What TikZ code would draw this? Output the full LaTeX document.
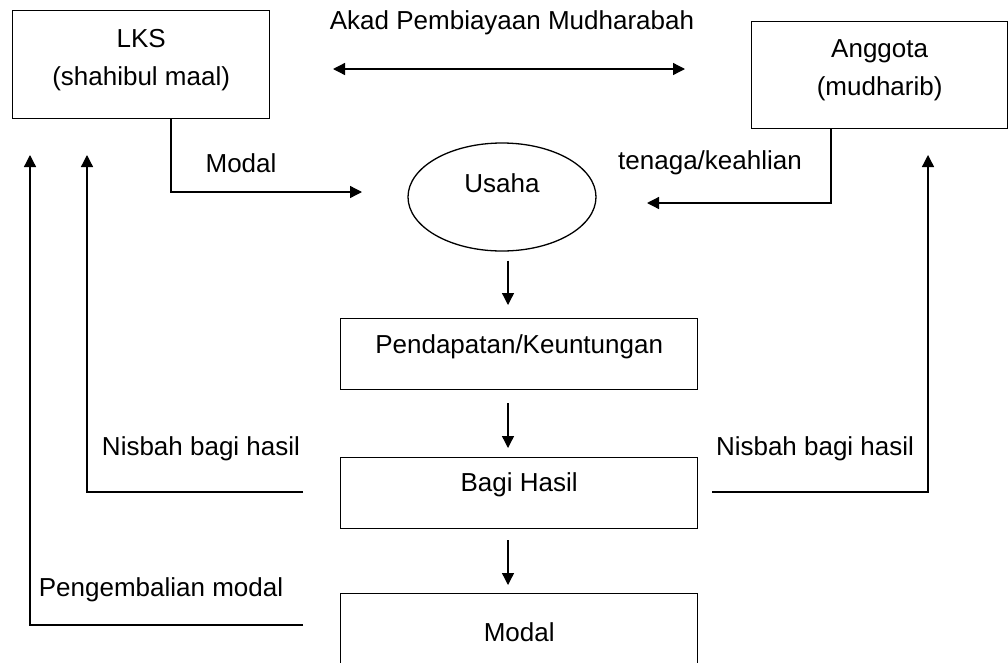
\documentclass[tikz,border=0pt]{standalone}
\usepackage{fontspec}
\setmainfont{Liberation Sans}
\usetikzlibrary{arrows.meta,shapes.geometric}

\tikzset{
	box/.style={draw, line width=1.3pt, anchor=north west, align=center, text height=19pt, text depth=19pt},
	tip/.style={line width=1.3pt, -{Triangle[length=12pt,width=12pt]}},
	lbl/.style={inner sep=0pt}
}

\begin{document}
\begin{tikzpicture}[x=1pt,y=-1pt,font=\fontsize{26}{38}\selectfont]
	\useasboundingbox (0,0) rectangle (1008,662);
	% boxes
	\node[box, minimum width=257pt, minimum height=108pt, text height=57pt, text depth=16pt] (lks) at (12,10) {LKS\\(shahibul maal)};
	\node[box, minimum width=256pt, minimum height=107pt, text height=57pt, text depth=16pt] (agt) at (751,21) {Anggota\\(mudharib)};
	\node[draw, ellipse, line width=1.3pt, minimum width=188pt, minimum height=108pt, text height=19pt, text depth=28pt] (usaha) at (502,197) {Usaha};
	\node[box, minimum width=357pt, minimum height=71pt, text depth=21pt] (pend) at (340,318) {Pendapatan/Keuntungan};
	\node[box, minimum width=357pt, minimum height=71pt, text depth=22pt] (bagi) at (340,457) {Bagi Hasil};
	\node[box, minimum width=357pt, minimum height=96pt] (modal) at (340,593) {Modal};
	% labels
	\node[lbl] (akad) at (512,23) {Akad Pembiayaan Mudharabah};
	\node[lbl] (modallbl) at (241,163) {Modal};
	\node[lbl] (tenaga) at (710,163) {tenaga/keahlian};
	\node[lbl] (nisbahL) at (201,449) {Nisbah bagi hasil};
	\node[lbl] (nisbahR) at (815,449) {Nisbah bagi hasil};
	\node[lbl] (kembali) at (161,590) {Pengembalian modal};
	% free ends
	\coordinate (akadL) at (333,69);
	\coordinate (akadR) at (685,69);
	\coordinate (usahaL) at (362,192);
	\coordinate (usahaR) at (647,203);
	\coordinate (mid) at (508,0);
	\coordinate (bagiL) at (303,492);
	\coordinate (bagiR) at (712,492);
	\coordinate (modalL) at (303,625);
	\coordinate (lksA) at (30,155);
	\coordinate (lksB) at (87,155);
	\coordinate (agtA) at (928,155);
	% connectors
	\draw[tip, {Triangle[length=12pt,width=12pt]}-{Triangle[length=12pt,width=12pt]}] (akadL) -- (akadR);
	\draw[tip] (lks.south west) ++(159,0) |- (usahaL);
	\draw[tip] (agt.south west) ++(80,0) |- (usahaR);
	\draw[tip, shorten <=9pt, shorten >=13pt] (usaha.south -| mid) -- (pend.north -| mid);
	\draw[tip, shorten <=13pt, shorten >=9pt] (pend.south -| mid) -- (bagi.north -| mid);
	\draw[tip, shorten <=11pt, shorten >=8pt] (bagi.south -| mid) -- (modal.north -| mid);
	\draw[tip] (bagiL) -| (lksB);
	\draw[tip] (bagiR) -| (agtA);
	\draw[tip] (modalL) -| (lksA);
\end{tikzpicture}
\end{document}
